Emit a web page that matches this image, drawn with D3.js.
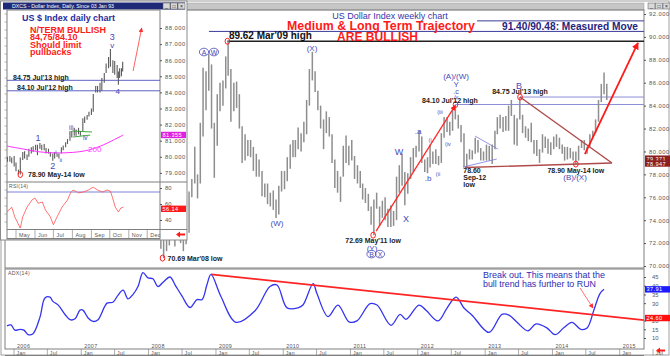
<!DOCTYPE html>
<html><head><meta charset="utf-8">
<script src="https://cdn.jsdelivr.net/npm/d3@7"></script>
<style>
html,body{margin:0;padding:0;background:#fff;}
svg{display:block;font-family:"Liberation Sans",Arial,sans-serif;}
</style></head><body>
<svg id="c" width="670" height="356"></svg>
<script>
// ---------------- DATA ----------------
// Weekly chart, semi-monthly bars starting Jan 2008 (first half / second half of each month)
const weeklyHigh = [
77.0,76.5,76.4,76.2,74.0,73.3,72.8,73.9,73.9,73.4,74.0,73.2,72.9,73.2,76.5,77.6,80.4,78.0,82.5,87.3,87.0,88.5,87.6,82.5,
85.0,86.0,86.2,88.3,89.62,87.2,86.0,86.1,85.0,82.2,81.5,81.0,81.0,80.4,79.8,79.3,78.3,77.2,77.2,76.4,76.6,75.8,77.0,78.3,
78.3,79.5,80.6,81.0,81.0,82.1,81.6,82.6,84.5,87.2,88.7,87.0,85.3,84.0,82.8,83.5,83.0,81.5,79.3,78.3,77.8,80.5,81.4,80.5,
81.0,79.6,78.8,78.3,77.2,76.8,76.3,75.2,75.8,76.4,75.2,75.7,76.0,75.0,75.3,74.8,77.8,78.8,79.8,78.2,78.1,79.5,80.3,80.5,
81.8,81.3,79.3,79.5,80.6,80.0,80.2,79.6,81.6,83.0,83.0,82.6,83.7,84.1,83.2,82.3,81.6,79.8,80.2,80.1,81.2,81.0,80.3,80.0,
80.6,80.5,80.6,81.8,83.0,83.2,83.0,83.1,84.0,84.5,83.2,82.9,84.75,83.2,82.2,82.0,82.5,81.0,81.0,80.2,81.5,81.3,81.1,80.8,
81.3,81.5,81.2,80.6,80.4,80.4,80.3,80.0,80.0,80.5,81.0,81.0,80.4,81.5,81.8,82.8,84.5,85.9,86.9,85.9];
const weeklyLow = [
75.6,75.2,75.2,73.8,71.5,70.69,71.3,71.8,72.4,71.7,72.5,72.0,71.3,71.9,72.9,76.0,77.2,75.9,77.2,81.3,83.6,85.3,82.0,77.7,
80.5,83.5,84.0,85.5,86.6,82.6,83.5,83.8,82.0,79.0,79.2,79.6,79.5,78.3,77.8,77.8,76.1,76.0,75.4,75.2,74.9,74.2,74.5,76.5,
76.7,77.4,78.5,79.5,79.5,80.2,80.0,80.8,81.5,84.0,86.2,85.2,83.6,82.0,80.2,81.6,81.3,79.0,76.8,76.4,75.6,77.8,79.0,78.8,
79.2,77.6,77.2,76.8,75.8,75.5,74.8,73.6,72.69,75.0,73.5,74.2,74.0,73.4,73.4,73.5,74.0,76.4,77.0,75.3,76.3,77.6,78.2,79.5,
80.0,79.0,78.2,78.1,78.6,78.9,78.9,78.8,79.0,81.2,81.7,81.4,81.8,82.8,82.0,80.8,78.6,78.6,79.3,79.3,79.8,79.9,79.2,79.2,
79.2,79.2,78.9,80.2,81.5,82.0,81.7,81.8,81.8,83.1,80.6,80.5,82.8,81.6,81.2,80.9,80.8,79.8,79.6,79.0,79.9,80.3,79.8,79.7,
80.2,80.4,80.2,79.8,79.2,79.3,79.4,79.2,78.9,79.2,80.3,80.1,79.8,80.4,81.2,81.6,82.6,84.3,85.0,84.5];
const priceTicks = [70,72,74,76,78,80,82,84,86,88,90,92];

// ADX(14) weekly
const adxDates = ["2005-11-24","2005-12-16","2006-01-06","2006-02-03","2006-02-24","2006-03-18","2006-04-14","2006-05-22","2006-06-18","2006-07-15","2006-07-31","2006-08-28","2006-10-05","2006-11-01","2006-11-28","2006-12-25","2007-01-10","2007-02-07","2007-03-06","2007-04-02","2007-05-21","2007-06-22","2007-07-19","2007-08-16","2007-09-12","2007-10-09","2007-11-05","2007-12-02","2007-12-29","2008-01-25","2008-02-21","2008-03-20","2008-04-27","2008-05-24","2008-07-01","2008-08-13","2008-09-20","2008-10-17","2008-11-13","2008-12-05","2009-01-28","2009-04-20","2009-08-01","2009-10-21","2009-11-28","2010-01-22","2010-03-22","2010-04-18","2010-06-12","2010-07-03","2010-09-01","2010-10-25","2010-12-24","2011-02-05","2011-04-17","2011-05-25","2011-08-09","2011-09-27","2011-10-29","2012-01-08","2012-02-15","2012-04-20","2012-06-08","2012-07-27","2012-09-08","2012-10-22","2013-01-22","2013-04-02","2013-05-10","2013-06-23","2013-08-21","2013-10-04","2013-12-03","2014-01-15","2014-03-05","2014-04-17","2014-06-05","2014-07-08","2014-08-15","2014-09-16","2014-10-08"];
const adxValues = [17,17.5,14.5,15,14.5,12,12.5,22,33,33.5,31,29,23.5,20.5,21,26,26,21.5,19.5,20.5,30,30.5,34.5,37.5,32.5,35,39.5,47.5,44.5,44,39.5,42,45,40.5,34,27.5,32,32,40.5,46.5,33.8,19.0,25.6,39.6,40.4,27.3,27.3,28.9,41.2,35.5,22.3,28.9,19.3,19.8,29.7,28.9,17.3,23.6,20.7,28.9,25.9,19.8,27.2,33.5,27.2,23.1,13.2,23.6,23.1,19.0,14.1,18.1,15.7,11.9,16.0,19.0,14.9,15.7,26.4,35.5,37.91];
const adxTicks = [10,15,20,30,35,40,45];
const adxTrend = {from:["2008-12-05",46.5], to:["2015-05-12",20.3]};

// Daily inset (half-week bars)
const dailyDates = ["2014-04-14","2014-04-17","2014-04-21","2014-04-24","2014-04-28","2014-05-01","2014-05-05","2014-05-08","2014-05-12","2014-05-15","2014-05-19","2014-05-22","2014-05-26","2014-05-29","2014-06-02","2014-06-05","2014-06-09","2014-06-12","2014-06-16","2014-06-19","2014-06-23","2014-06-26","2014-06-30","2014-07-03","2014-07-07","2014-07-10","2014-07-14","2014-07-17","2014-07-21","2014-07-24","2014-07-28","2014-07-31","2014-08-04","2014-08-07","2014-08-11","2014-08-14","2014-08-18","2014-08-21","2014-08-25","2014-08-28","2014-09-01","2014-09-04","2014-09-08","2014-09-11","2014-09-15","2014-09-18","2014-09-22","2014-09-25","2014-09-29","2014-10-02","2014-10-06","2014-10-09","2014-10-13","2014-10-15","2014-10-17","2014-10-20","2014-10-22"];
const dailyHigh = [80.05,80.0,80.05,79.95,80.05,79.65,79.2,79.95,80.3,80.35,80.15,80.5,80.6,80.65,80.75,80.75,80.85,80.75,80.8,80.55,80.5,80.3,80.2,80.3,80.2,80.2,80.6,80.7,80.9,81.1,81.6,81.6,81.8,81.7,81.8,81.6,82.4,82.5,82.6,82.8,83.0,83.9,84.4,84.4,84.6,84.9,85.2,85.8,86.2,86.7,86.0,85.95,85.7,85.3,85.5,85.5,85.9];
const dailyLow = [79.55,79.7,79.7,79.6,79.4,79.1,78.9,78.9,79.8,79.9,79.8,80.0,80.2,80.3,80.4,80.1,80.5,80.4,80.4,80.2,80.2,80.0,79.75,79.9,80.0,79.9,80.2,80.4,80.6,80.8,81.0,81.2,81.3,81.3,81.4,81.3,81.6,82.1,82.3,82.5,82.6,82.8,84.0,84.0,84.0,84.1,84.6,85.2,85.5,85.6,85.2,85.1,84.9,84.47,84.9,85.0,85.3];
const ma200Dates = ["2014-04-16","2014-05-13","2014-06-10","2014-07-12","2014-08-20","2014-09-16","2014-10-23"];
const ma200Values = [80.67,80.48,80.30,80.24,80.36,80.67,81.355];
const rsiDates = ["2014-04-16","2014-04-24","2014-04-29","2014-05-04","2014-05-08","2014-05-12","2014-05-19","2014-05-27","2014-06-01","2014-06-06","2014-06-13","2014-06-18","2014-06-26","2014-07-01","2014-07-07","2014-07-15","2014-07-24","2014-07-29","2014-08-02","2014-08-11","2014-08-19","2014-08-27","2014-09-04","2014-09-11","2014-09-19","2014-09-27","2014-10-02","2014-10-05","2014-10-10","2014-10-15","2014-10-19","2014-10-23"];
const rsiValues = [50,56,44,36,30,44,56,65,67.5,61,62.5,52.5,44,34,44,56,65,74,77.5,74,75,77.5,81,77.5,75,77.5,76,69,56,50,55,56];
const insetTicks = [79,80,81,82,83,84,85,86,87,88];
const rsiTicks = [40,60,80];
const rsiLevel = 75;
const months = ["May","Jun","Jul","Aug","Sep","Oct","Nov","Dec"];

// ---------------- SETUP ----------------
const P = d3.timeParse("%Y-%m-%d");
const svg = d3.select("#c");
const defs = svg.append("defs");
defs.append("marker").attr("id","ah").attr("viewBox","0 0 8 8").attr("refX",7).attr("refY",4)
  .attr("markerWidth",4).attr("markerHeight",4).attr("orient","auto")
  .append("path").attr("d","M0,0L8,4L0,8z").attr("fill","#ff1a1a");
defs.append("marker").attr("id","ah2").attr("viewBox","0 0 8 8").attr("refX",7).attr("refY",4)
  .attr("markerWidth",6).attr("markerHeight",6).attr("orient","auto")
  .append("path").attr("d","M0,0L8,4L0,8z").attr("fill","#ff3030");
defs.append("clipPath").attr("id","mainClip").append("rect").attr("x",5).attr("y",10).attr("width",639).attr("height",258);
defs.append("clipPath").attr("id","adxClip").append("rect").attr("x",5).attr("y",269).attr("width",639).attr("height",80);
defs.append("clipPath").attr("id","inClip").append("rect").attr("x",7).attr("y",10).attr("width",153).attr("height",172);
defs.append("clipPath").attr("id","rsiClip").append("rect").attr("x",7).attr("y",182).attr("width",153).attr("height",47);

const xM = d3.scaleTime().domain([new Date(2006,0,1), new Date(2015,0,1)]).range([14, 619.7]);
const yM = d3.scaleLinear().domain([70,92]).range([266,14]);
const yA = d3.scaleLinear().domain([10,45]).range([338,277]);
const xI = d3.scaleTime().domain([new Date(2014,4,1), new Date(2014,11,1)]).range([16,147.2]);
const yI = d3.scaleLinear().domain([79,88]).range([172.9,28]);
const yR = d3.scaleLinear().domain([40,80]).range([220,188]);

const WAVE="#4848b8", RED="#ff1a1a", GRID="#7f7f7f";

function text(g,x,y,s,o={}){
  const t=g.append("text").attr("x",x).attr("y",y).text(s)
   .attr("font-size",o.size||7).attr("fill",o.fill||"#000")
   .attr("font-weight",o.bold?"bold":"normal")
   .attr("text-anchor",o.anchor||"start");
  if(o.ls) t.attr("letter-spacing",o.ls);
  if(o.len) t.attr("textLength",o.len).attr("lengthAdjust","spacingAndGlyphs");
  return t;
}
function buttons(g,x,y){
  ["_","□","×"].forEach((s,i)=>{
    g.append("rect").attr("x",x+i*7.5).attr("y",y).attr("width",7).attr("height",6)
      .attr("fill","#d8d8d8").attr("stroke","#555").attr("stroke-width",0.5);
    text(g,x+i*7.5+3.5,y+5,s,{size:5,anchor:"middle",fill:"#111"});
  });
}
function marker(g,x,y){
  g.append("ellipse").attr("cx",x).attr("cy",y).attr("rx",2.3).attr("ry",3)
   .attr("fill","none").attr("stroke","#ff2020").attr("stroke-width",1);
}
function circled(g,x,y,s){
  g.append("ellipse").attr("cx",x).attr("cy",y).attr("rx",4.6).attr("ry",3.8)
   .attr("fill","none").attr("stroke",WAVE).attr("stroke-width",0.8);
  text(g,x,y+2.6,s,{size:7,anchor:"middle",fill:WAVE});
}
function valBox(g,x,y,w,s,bg,fg){
  g.append("rect").attr("x",x).attr("y",y-3.2).attr("width",w).attr("height",6.4).attr("fill",bg);
  text(g,x+1.5,y+2,s,{size:5.6,fill:fg||"#fff",ls:0.4});
}
svg.append("rect").attr("width",670).attr("height",356).attr("fill","#fff");

// ---------------- MAIN WEEKLY CHART ----------------
const main = svg.append("g");
main.append("rect").attr("x",1).attr("y",1).attr("width",668).attr("height",354).attr("fill","#fff").attr("stroke","#a0a0a0");
main.append("rect").attr("x",2).attr("y",3).attr("width",642).attr("height",7).attr("fill","#c6c6c6").attr("stroke","#9a9a9a").attr("stroke-width",0.5);
buttons(main,648,3);
main.append("rect").attr("x",5).attr("y",10).attr("width",639).attr("height",258).attr("fill","none").attr("stroke",GRID);
main.append("rect").attr("x",5).attr("y",269).attr("width",639).attr("height",80).attr("fill","none").attr("stroke",GRID);
main.append("line").attr("x1",5).attr("x2",644).attr("y1",355.5).attr("y2",355.5).attr("stroke",GRID);

// level lines
const levels=[[90.48,"2008-11-24","#3a3a9a",1],[91.40,"2012-11-18","#3a3a9a",1],[89.62,"2009-03-04","#202020",1.3],[84.10,"2012-07-24","#8c8cd8",1],[84.75,"2013-07-09","#8c8cd8",1]];
levels.forEach(l=>{
  main.append("line").attr("x1",xM(P(l[1]))).attr("x2",644).attr("y1",yM(l[0])).attr("y2",yM(l[0]))
   .attr("stroke",l[2]).attr("stroke-width",l[3]);
});

// bars
const bars = main.append("g").attr("clip-path","url(#mainClip)");
bars.selectAll("line").data(weeklyHigh).join("line")
  .attr("x1",(d,i)=>xM(new Date(2008,Math.floor(i/2),i%2?23:8)))
  .attr("x2",(d,i)=>xM(new Date(2008,Math.floor(i/2),i%2?23:8)))
  .attr("y1",d=>yM(d)).attr("y2",(d,i)=>yM(weeklyLow[i]))
  .attr("stroke","#8e8e8e").attr("stroke-width",1.5);

// annotation lines
const ann = main.append("g").attr("clip-path","url(#mainClip)");
function segM(a,b,col,w,mk){
  const l=ann.append("line").attr("x1",xM(P(a[0]))).attr("y1",yM(a[1])).attr("x2",xM(P(b[0]))).attr("y2",yM(b[1]))
   .attr("stroke",col).attr("stroke-width",w);
  if(mk) l.attr("marker-end",mk);
}
segM(["2012-11-07",81.34],["2013-03-11",80.21],"#7a7ae0",0.8);
segM(["2012-09-03",78.64],["2013-03-05",79.34],"#7a7ae0",0.8);
segM(["2013-07-09",84.75],["2014-11-20",78.99],"#b04a4a",1.4);
segM(["2012-09-14",78.60],["2014-11-20",78.99],"#b04a4a",1.4);
segM(["2011-05-20",73.05],["2012-07-22",84.00],"#ff2a2a",1.3,"url(#ah)");
segM(["2014-06-26",79.77],["2015-04-10",89.47],"#ff1a1a",1.8,"url(#ah)");

// markers
[["2009-03-04",89.62],["2012-07-24",84.10],["2013-07-09",84.75],["2014-05-08",78.90],["2011-05-04",72.69],["2008-03-17",70.69]]
 .forEach(m=>marker(main,xM(P(m[0])),yM(m[1])));

// wave labels (date, price of label centre)
const waveLabels=[["(X)","2010-06-06",89.0,8],["(W)","2009-11-28",73.7,8],["(Y)","2011-04-28",71.6,8],["W","2011-09-21",79.95,9],
 ["X","2011-10-29",74.1,9],[".a","2012-01-03",81.8,8],[".b","2012-02-26",77.7,8],["(i","2012-03-08",81.0,5.5],["(ii","2012-04-20",78.05,5.5],
 ["(iii","2012-05-01",83.45,5.5],["(iv","2012-06-13",80.65,5.5],["/v","2012-07-27",84.75,5.5],[".c","2012-07-27",85.2,7],
 ["Y","2012-07-27",85.9,8],["(A)/(W)","2012-07-27",86.6,8],["B","2013-07-04",85.7,9],["(B)/(X)","2014-05-04",77.8,8]];
waveLabels.forEach(w=>text(main,xM(P(w[1])),yM(w[2])+w[3]*0.36,w[0],{size:w[3],anchor:"middle",fill:WAVE}));
circled(main,xM(P("2008-10-28")),yM(88.68),"A");
circled(main,xM(P("2008-12-21")),yM(88.68),"W");
circled(main,xM(P("2011-04-25")),yM(71.04),"B");
circled(main,xM(P("2011-06-10")),yM(71.04),"X");

// price notes
text(main,xM(P("2009-03-04"))+1.5,yM(89.62)-2.5,"89.62 Mar'09 high",{size:10,bold:true,fill:"#111"});
text(main,xM(P("2012-06-24")),yM(84.10)-1.5,"84.10 Jul'12 high",{size:7,bold:true,anchor:"middle",fill:"#222"});
text(main,xM(P("2013-07-09")),yM(84.75)-3.5,"84.75 Jul'13 high",{size:7,bold:true,anchor:"middle",fill:"#222"});
text(main,xM(P("2014-05-08")),yM(78.90)+8.5,"78.90 May-14 low",{size:7,bold:true,anchor:"middle",fill:"#222"});
text(main,xM(P("2011-05-04")),yM(72.69)+8,"72.69 May'11 low",{size:7,bold:true,anchor:"middle",fill:"#222"});
text(main,xM(P("2008-03-17"))+5,yM(70.69)+2.5,"70.69 Mar'08 low",{size:7,bold:true,fill:"#222"});
["78.60","Sep-12","low"].forEach((s,i)=>text(main,xM(P("2012-09-04")),yM(78.60)+6+i*6.6,s,{size:7,bold:true,fill:"#222"}));

// titles
text(main,390,18.5,"US Dollar Index weekly chart",{size:9,fill:"#3636aa",anchor:"middle"});
text(main,381,30,"Medium & Long Term Trajectory",{size:12.3,bold:true,fill:RED,anchor:"middle",len:188});
text(main,377.5,41,"ARE BULLISH",{size:12.3,bold:true,fill:RED,anchor:"middle",len:81});
text(main,570,30.3,"91.40/90.48: Measured Move",{size:10,bold:true,fill:"#24247e",anchor:"middle",len:136});

// right price axis
const ax = main.append("g").attr("transform","translate(644,0)")
  .call(d3.axisRight(yM).tickValues(priceTicks).tickFormat(d3.format(".3f")).tickSize(2).tickPadding(3));
ax.select(".domain").remove();
ax.selectAll("text").attr("font-size",5.8).attr("fill","#555").attr("letter-spacing",0.5).attr("font-family","Liberation Sans");
ax.selectAll("line").attr("stroke","#555");
valBox(main,645,yM(79.371),25,"79.371","#8b1e1e");
valBox(main,645,yM(78.947),25,"78.947","#8b1e1e");

// ---------------- ADX PANEL ----------------
const adx = main.append("g");
text(adx,8,275,"ADX(14)",{size:5.2,fill:"#555",ls:0.3});
const adxLine = d3.line().x((d,i)=>xM(P(adxDates[i]))).y(d=>yA(d)).curve(d3.curveCatmullRom.alpha(0.5));
adx.append("g").attr("clip-path","url(#adxClip)").append("path").attr("d",adxLine(adxValues))
  .attr("fill","none").attr("stroke","#3434f0").attr("stroke-width",1.3);
adx.append("g").attr("clip-path","url(#adxClip)").append("line")
  .attr("x1",xM(P(adxTrend.from[0]))).attr("y1",yA(adxTrend.from[1]))
  .attr("x2",xM(P(adxTrend.to[0]))).attr("y2",yA(adxTrend.to[1]))
  .attr("stroke","#ff2424").attr("stroke-width",1.8);
text(adx,483,277.5,"Break out. This means that the",{size:9,fill:"#2e2eb4",len:122});
text(adx,483,286.5,"bull trend has further to RUN",{size:9,fill:"#2e2eb4",len:113});
adx.append("line").attr("x1",xM(P("2014-05-31"))).attr("y1",yA(38.7)).attr("x2",xM(P("2014-08-09"))).attr("y2",yA(27.2))
  .attr("stroke","#ff4a4a").attr("stroke-width",0.8).attr("marker-end","url(#ah2)");
const ax2 = adx.append("g").attr("transform","translate(644,0)")
  .call(d3.axisRight(yA).tickValues(adxTicks).tickFormat(d3.format("d")).tickSize(2).tickPadding(6));
ax2.select(".domain").remove();
ax2.selectAll("text").attr("font-size",5.8).attr("fill","#555").attr("font-family","Liberation Sans");
ax2.selectAll("line").attr("stroke","#555");
valBox(adx,645,yA(37.91),25,"37.91","#1c1cff");
valBox(adx,645,yA(adxTrend.to[1])-2,25,"24.60","#ff1010");
for(let yr=2006; yr<=2015; yr++){
  [0,6].forEach(m=>{
    const x = xM(new Date(yr,m,1));
    adx.append("line").attr("x1",x).attr("x2",x).attr("y1",349).attr("y2",355.5).attr("stroke","#777").attr("stroke-width",0.6);
    text(adx,x+2.5,354.5,m?"Jul":"Jan",{size:5.2,fill:"#555",ls:0.3});
    if(!m) text(adx,x+3,348,String(yr),{size:5.4,fill:"#555",ls:0.3});
  });
}
adx.append("path").attr("d","M656,350.5l4,-3v2h5v2h-5v2z").attr("fill","#ff1a1a");

// ---------------- DAILY INSET ----------------
const ins = svg.append("g");
ins.append("rect").attr("x",0.5).attr("y",1).attr("width",186.5).attr("height",239).attr("fill","#fff").attr("stroke","#8a8a8a");
ins.append("rect").attr("x",3).attr("y",2.5).attr("width",182).attr("height",7).attr("fill","#1e2a78");
text(ins,12,8,"DXCS - Dollar Index, Daily. Since 03 Jan 93",{size:4.8,fill:"#fff",len:102});
buttons(ins,163,3);
ins.append("rect").attr("x",7).attr("y",10).attr("width",153).attr("height",229).attr("fill","none").attr("stroke",GRID);
ins.append("line").attr("x1",7).attr("x2",187).attr("y1",182).attr("y2",182).attr("stroke",GRID);
ins.append("line").attr("x1",7).attr("x2",187).attr("y1",229.5).attr("y2",229.5).attr("stroke",GRID);
ins.append("line").attr("x1",7).attr("x2",160).attr("y1",238.5).attr("y2",238.5).attr("stroke",GRID);
for(let y=14;y<228;y+=8) ins.append("line").attr("x1",4.5).attr("x2",7).attr("y1",y).attr("y2",y).attr("stroke","#888").attr("stroke-width",0.6);

const ic = ins.append("g").attr("clip-path","url(#inClip)");
[84.75,84.10].forEach(v=>ic.append("line").attr("x1",7).attr("x2",160).attr("y1",yI(v)).attr("y2",yI(v)).attr("stroke","#5050c0").attr("stroke-width",0.9));
ic.selectAll("line.b").data(dailyHigh).join("line").attr("class","b")
  .attr("x1",(d,i)=>xI(P(dailyDates[i]))).attr("x2",(d,i)=>xI(P(dailyDates[i])))
  .attr("y1",d=>yI(d)).attr("y2",(d,i)=>yI(dailyLow[i]))
  .attr("stroke","#5a5a5a").attr("stroke-width",1.1);
const maLine = d3.line().x((d,i)=>xI(P(ma200Dates[i]))).y(d=>yI(d)).curve(d3.curveCatmullRom);
ic.append("path").attr("d",maLine(ma200Values)).attr("fill","none").attr("stroke","#ff30ff").attr("stroke-width",1);
ic.append("line").attr("x1",xI(P("2014-07-31"))).attr("y1",yI(81.6)).attr("x2",xI(P("2014-09-02"))).attr("y2",yI(81.54)).attr("stroke","#2aa02a").attr("stroke-width",0.9);
ic.append("line").attr("x1",xI(P("2014-08-02"))).attr("y1",yI(81.23)).attr("x2",xI(P("2014-08-30"))).attr("y2",yI(81.35)).attr("stroke","#2aa02a").attr("stroke-width",0.9);
ic.append("line").attr("x1",xI(P("2014-11-08"))).attr("y1",yI(85.33)).attr("x2",xI(P("2014-11-22"))).attr("y2",yI(88.0))
  .attr("stroke","#ff3a3a").attr("stroke-width",0.8).attr("marker-end","url(#ah2)");
marker(ins,xI(P("2014-05-08")),yI(78.90));

text(ins,22,20.5,"US $ Index daily chart",{size:9,bold:true,fill:"#2a2a9a",len:93});
["N/TERM BULLISH","84,75/84.10","Should limit","pullbacks"].forEach((s,i)=>text(ins,30,33+i*7.4,s,{size:9,bold:true,fill:RED}));
text(ins,13,yI(84.75)-0.5,"84.75 Jul'13 high",{size:7,bold:true,fill:"#222"});
text(ins,17,yI(84.10)-0.5,"84.10 Jul'12 high",{size:7,bold:true,fill:"#222"});
text(ins,28,yI(78.90)+2.5,"78.90 May-14 low",{size:7,bold:true,fill:"#222"});
text(ins,88,151.5,"200",{size:8,fill:"#ff40ff"});
const insLabels=[["3","2014-10-05",87.44,9],["v","2014-10-05",86.94,8],["4","2014-10-14",84.09,8],["1","2014-06-06",81.17,9],["2","2014-06-30",79.43,9],
 ["i","2014-07-05",80.30,6],["ii","2014-07-13",79.80,6],["iii","2014-07-30",81.79,6.5],["iv","2014-08-22",81.17,6.5]];
insLabels.forEach(w=>text(ins,xI(P(w[1])),yI(w[2])+w[3]*0.36,w[0],{size:w[3],anchor:"middle",fill:WAVE}));

// RSI
text(ins,9,187.5,"RSI(14)",{size:5,fill:"#555",ls:0.3});
const rc = ins.append("g").attr("clip-path","url(#rsiClip)");
rc.append("line").attr("x1",7).attr("x2",160).attr("y1",yR(rsiLevel)).attr("y2",yR(rsiLevel)).attr("stroke","#6060d0").attr("stroke-width",0.8);
const rsiLine = d3.line().x((d,i)=>xI(P(rsiDates[i]))).y(d=>yR(d));
rc.append("path").attr("d",rsiLine(rsiValues)).attr("fill","none").attr("stroke","#ff5050").attr("stroke-width",0.8);

const ax3 = ins.append("g").attr("transform","translate(160,0)")
  .call(d3.axisRight(yI).tickValues(insetTicks).tickFormat(d3.format(".3f")).tickSize(2).tickPadding(3));
ax3.select(".domain").remove();
ax3.selectAll("text").attr("font-size",5.8).attr("fill","#555").attr("letter-spacing",0.5).attr("font-family","Liberation Sans");
ax3.selectAll("line").attr("stroke","#555");
const ax4 = ins.append("g").attr("transform","translate(160,0)")
  .call(d3.axisRight(yR).tickValues(rsiTicks).tickFormat(d3.format("d")).tickSize(2).tickPadding(3));
ax4.select(".domain").remove();
ax4.selectAll("text").attr("font-size",5.8).attr("fill","#555").attr("font-family","Liberation Sans");
ax4.selectAll("line").attr("stroke","#555");
valBox(ins,161,yI(81.355),25,"81.355","#e020e0");
valBox(ins,161,yR(54),25,"56.14","#ff1a1a");
months.forEach((m,i)=>{
  const x = xI(new Date(2014,4+i,1));
  ins.append("line").attr("x1",x).attr("x2",x).attr("y1",230).attr("y2",238).attr("stroke","#777").attr("stroke-width",0.6);
  text(ins,x+3,236.5,m,{size:5.4,fill:"#555",ls:0.3});
});
ins.append("path").attr("d","M176,234.5l4,-3v2h5v2h-5v2z").attr("fill","#ff1a1a");
</script>
</body></html>
